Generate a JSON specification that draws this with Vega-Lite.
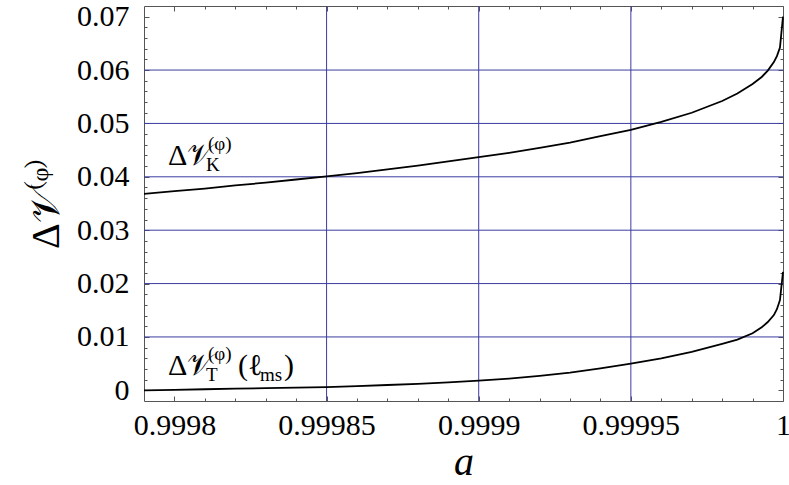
{
  "$schema": "https://vega.github.io/schema/vega-lite/v6.json",
  "width": 639,
  "height": 395,
  "autosize": {"type": "none"},
  "padding": {"left": 144, "top": 6, "right": 6, "bottom": 84},
  "background": "white",
  "config": {
    "view": {"stroke": null},
    "font": "Liberation Serif",
    "axis": {
      "domainColor": "#555555",
      "tickColor": "#555555",
      "labelColor": "black",
      "titleColor": "black",
      "labelFont": "Liberation Serif",
      "titleFont": "Liberation Serif",
      "labelFontSize": 30,
      "grid": false
    },
    "text": {"font": "Liberation Serif", "color": "black"}
  },
  "datasets": {
    "curves": [
      {"a": 0.99979, "v": 0.0368, "s": "K"},
      {"a": 0.9998, "v": 0.0373, "s": "K"},
      {"a": 0.99981, "v": 0.0378, "s": "K"},
      {"a": 0.99982, "v": 0.0384, "s": "K"},
      {"a": 0.99983, "v": 0.0389, "s": "K"},
      {"a": 0.99984, "v": 0.0395, "s": "K"},
      {"a": 0.99985, "v": 0.0401, "s": "K"},
      {"a": 0.99986, "v": 0.0407, "s": "K"},
      {"a": 0.99987, "v": 0.0414, "s": "K"},
      {"a": 0.99988, "v": 0.0421, "s": "K"},
      {"a": 0.99989, "v": 0.0429, "s": "K"},
      {"a": 0.9999, "v": 0.0437, "s": "K"},
      {"a": 0.99991, "v": 0.0445, "s": "K"},
      {"a": 0.99992, "v": 0.0454, "s": "K"},
      {"a": 0.99993, "v": 0.0464, "s": "K"},
      {"a": 0.99994, "v": 0.0476, "s": "K"},
      {"a": 0.99995, "v": 0.0488, "s": "K"},
      {"a": 0.99996, "v": 0.0503, "s": "K"},
      {"a": 0.99997, "v": 0.052, "s": "K"},
      {"a": 0.99998, "v": 0.0542, "s": "K"},
      {"a": 0.999985, "v": 0.0556, "s": "K"},
      {"a": 0.99999, "v": 0.0574, "s": "K"},
      {"a": 0.999993, "v": 0.0587, "s": "K"},
      {"a": 0.999995, "v": 0.0599, "s": "K"},
      {"a": 0.999997, "v": 0.0615, "s": "K"},
      {"a": 0.999998, "v": 0.0626, "s": "K"},
      {"a": 0.999999, "v": 0.0642, "s": "K"},
      {"a": 1, "v": 0.07, "s": "K"},
      {"a": 0.99979, "v": 0.0, "s": "T"},
      {"a": 0.9998, "v": 0.0001, "s": "T"},
      {"a": 0.99981, "v": 0.0002, "s": "T"},
      {"a": 0.99982, "v": 0.0003, "s": "T"},
      {"a": 0.99983, "v": 0.0004, "s": "T"},
      {"a": 0.99984, "v": 0.0005, "s": "T"},
      {"a": 0.99985, "v": 0.0006, "s": "T"},
      {"a": 0.99986, "v": 0.0008, "s": "T"},
      {"a": 0.99987, "v": 0.001, "s": "T"},
      {"a": 0.99988, "v": 0.0012, "s": "T"},
      {"a": 0.99989, "v": 0.0015, "s": "T"},
      {"a": 0.9999, "v": 0.0018, "s": "T"},
      {"a": 0.99991, "v": 0.0022, "s": "T"},
      {"a": 0.99992, "v": 0.0027, "s": "T"},
      {"a": 0.99993, "v": 0.0033, "s": "T"},
      {"a": 0.99994, "v": 0.0041, "s": "T"},
      {"a": 0.99995, "v": 0.005, "s": "T"},
      {"a": 0.99996, "v": 0.006, "s": "T"},
      {"a": 0.99997, "v": 0.0072, "s": "T"},
      {"a": 0.99998, "v": 0.0087, "s": "T"},
      {"a": 0.999985, "v": 0.0095, "s": "T"},
      {"a": 0.99999, "v": 0.0107, "s": "T"},
      {"a": 0.999993, "v": 0.0118, "s": "T"},
      {"a": 0.999995, "v": 0.0128, "s": "T"},
      {"a": 0.999997, "v": 0.0141, "s": "T"},
      {"a": 0.999998, "v": 0.0152, "s": "T"},
      {"a": 0.999999, "v": 0.0169, "s": "T"},
      {"a": 1, "v": 0.0222, "s": "T"}
    ],
    "xgrid": [{"a": 0.99985}, {"a": 0.9999}, {"a": 0.99995}],
    "ygrid": [{"v": 0.01}, {"v": 0.02}, {"v": 0.03}, {"v": 0.04}, {"v": 0.05}, {"v": 0.06}],
    "labels": [
      {"s": "K", "a": 0.9997979, "v": 0.0422},
      {"s": "T", "a": 0.9997979, "v": 0.0028}
    ]
  },
  "resolve": {"axis": {"x": "independent", "y": "independent"}},
  "layer": [
    {
      "data": {"name": "xgrid"},
      "mark": {"type": "rule", "color": "#3c3ca0", "strokeWidth": 1},
      "encoding": {
        "x": {
          "field": "a", "type": "quantitative",
          "scale": {"domain": [0.99979, 1], "nice": false, "zero": false},
          "axis": {
            "orient": "bottom",
            "values": [0.9998, 0.99985, 0.9999, 0.99995, 1],
            "format": ".5~f",
            "tickSize": -5,
            "labelFont": "Liberation Serif",
            "labelFontSize": 30,
            "labelPadding": 14,
            "labelFlush": false,
            "labelOverlap": false,
            "title": "a",
            "titleFont": "Liberation Serif",
            "titleFontSize": 40,
            "titleFontStyle": "italic",
            "titleFontWeight": "normal",
            "titlePadding": 2
          }
        }
      }
    },
    {
      "data": {"name": "ygrid"},
      "mark": {"type": "rule", "color": "#3c3ca0", "strokeWidth": 1},
      "encoding": {
        "y": {
          "field": "v", "type": "quantitative",
          "scale": {"domain": [-0.002, 0.072], "nice": false, "zero": false},
          "axis": {
            "orient": "left",
            "values": [0, 0.01, 0.02, 0.03, 0.04, 0.05, 0.06, 0.07],
            "format": ".2~f",
            "tickSize": -5,
            "labelFont": "Liberation Serif",
            "labelFontSize": 30,
            "labelPadding": 20,
            "labelFlush": false,
            "labelOverlap": false,
            "title": "Δ𝒱⁽ᵠ⁾",
            "titleFont": "Liberation Serif",
            "titleFontSize": 40,
            "titleFontWeight": "normal",
            "titlePadding": 10
          }
        }
      }
    },
    {
      "data": {"name": "curves"},
      "mark": {"type": "line", "color": "black", "strokeWidth": 1.8},
      "encoding": {
        "x": {
          "field": "a", "type": "quantitative",
          "scale": {"domain": [0.99979, 1], "nice": false, "zero": false},
          "axis": {"orient": "top", "values": [0.9998, 0.99985, 0.9999, 0.99995, 1], "labels": false, "tickSize": -5, "title": null}
        },
        "y": {
          "field": "v", "type": "quantitative",
          "scale": {"domain": [-0.002, 0.072], "nice": false, "zero": false},
          "axis": {"orient": "right", "values": [0, 0.01, 0.02, 0.03, 0.04, 0.05, 0.06, 0.07], "labels": false, "tickSize": -5, "title": null}
        },
        "detail": {"field": "s"}
      }
    },
    {
      "data": {"name": "curves"},
      "mark": {"type": "line", "strokeOpacity": 0},
      "encoding": {
        "x": {
          "field": "a", "type": "quantitative",
          "axis": {"orient": "bottom", "values": [0.99981, 0.99982, 0.99983, 0.99984, 0.99986, 0.99987, 0.99988, 0.99989, 0.99991, 0.99992, 0.99993, 0.99994, 0.99996, 0.99997, 0.99998, 0.99999], "labels": false, "tickSize": -3, "domain": false, "title": null}
        },
        "y": {
          "field": "v", "type": "quantitative",
          "axis": {"orient": "left", "values": [0.002, 0.004, 0.006, 0.008, 0.012, 0.014, 0.016, 0.018, 0.022, 0.024, 0.026, 0.028, 0.032, 0.034, 0.036, 0.038, 0.042, 0.044, 0.046, 0.048, 0.052, 0.054, 0.056, 0.058, 0.062, 0.064, 0.066, 0.068], "labels": false, "tickSize": -3, "domain": false, "title": null}
        },
        "detail": {"field": "s"}
      }
    },
    {
      "data": {"name": "curves"},
      "mark": {"type": "line", "strokeOpacity": 0},
      "encoding": {
        "x": {
          "field": "a", "type": "quantitative",
          "axis": {"orient": "top", "values": [0.99981, 0.99982, 0.99983, 0.99984, 0.99986, 0.99987, 0.99988, 0.99989, 0.99991, 0.99992, 0.99993, 0.99994, 0.99996, 0.99997, 0.99998, 0.99999], "labels": false, "tickSize": -3, "domain": false, "title": null}
        },
        "y": {
          "field": "v", "type": "quantitative",
          "axis": {"orient": "right", "values": [0.002, 0.004, 0.006, 0.008, 0.012, 0.014, 0.016, 0.018, 0.022, 0.024, 0.026, 0.028, 0.032, 0.034, 0.036, 0.038, 0.042, 0.044, 0.046, 0.048, 0.052, 0.054, 0.056, 0.058, 0.062, 0.064, 0.066, 0.068], "labels": false, "tickSize": -3, "domain": false, "title": null}
        },
        "detail": {"field": "s"}
      }
    },
    {
      "data": {"name": "labels"},
      "mark": {"type": "text", "text": "Δ𝒱", "fontSize": 30, "align": "left", "baseline": "alphabetic", "font": "Liberation Serif"},
      "encoding": {
        "x": {"field": "a", "type": "quantitative", "axis": null},
        "y": {"field": "v", "type": "quantitative", "axis": null}
      }
    },
    {
      "data": {"name": "labels"},
      "mark": {"type": "text", "text": "(φ)", "fontSize": 19, "align": "left", "baseline": "alphabetic", "dx": 40, "dy": -15, "font": "Liberation Serif"},
      "encoding": {
        "x": {"field": "a", "type": "quantitative", "axis": null},
        "y": {"field": "v", "type": "quantitative", "axis": null}
      }
    },
    {
      "data": {"name": "labels"},
      "mark": {"type": "text", "fontSize": 19, "align": "left", "baseline": "alphabetic", "dx": 38, "dy": 6, "font": "Liberation Serif"},
      "encoding": {
        "x": {"field": "a", "type": "quantitative", "axis": null},
        "y": {"field": "v", "type": "quantitative", "axis": null},
        "text": {"field": "s"}
      }
    },
    {
      "data": {"name": "labels"},
      "transform": [{"filter": "datum.s == 'T'"}],
      "mark": {"type": "text", "text": "(ℓ", "fontSize": 30, "align": "left", "baseline": "alphabetic", "dx": 70, "font": "Liberation Serif"},
      "encoding": {
        "x": {"field": "a", "type": "quantitative", "axis": null},
        "y": {"field": "v", "type": "quantitative", "axis": null}
      }
    },
    {
      "data": {"name": "labels"},
      "transform": [{"filter": "datum.s == 'T'"}],
      "mark": {"type": "text", "text": "ms", "fontSize": 19, "align": "left", "baseline": "alphabetic", "dx": 92, "dy": 6, "font": "Liberation Serif"},
      "encoding": {
        "x": {"field": "a", "type": "quantitative", "axis": null},
        "y": {"field": "v", "type": "quantitative", "axis": null}
      }
    },
    {
      "data": {"name": "labels"},
      "transform": [{"filter": "datum.s == 'T'"}],
      "mark": {"type": "text", "text": ")", "fontSize": 30, "align": "left", "baseline": "alphabetic", "dx": 116, "font": "Liberation Serif"},
      "encoding": {
        "x": {"field": "a", "type": "quantitative", "axis": null},
        "y": {"field": "v", "type": "quantitative", "axis": null}
      }
    }
  ]
}
